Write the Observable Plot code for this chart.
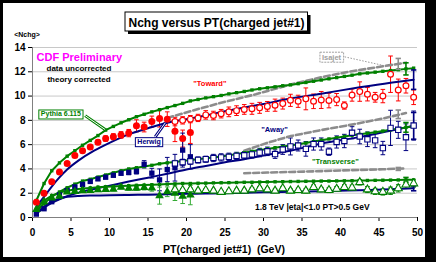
<!DOCTYPE html>
<html><head><meta charset="utf-8">
<script src="https://cdn.jsdelivr.net/npm/d3@7"></script>
<script src="https://cdn.jsdelivr.net/npm/@observablehq/plot@0.6"></script>
<style>body{margin:0;background:#fff}svg{display:block}</style>
</head><body><div id="chart"></div>
<script>
// ---- categories / ticks ----
const xTicks = [0,5,10,15,20,25,30,35,40,45,50];
const yTicks = [0,2,4,6,8,10,12,14];
const ptMB = [0.5,1.5,2.5,3.5,4.5,5.5,6.5,7.5,8.5,9.5,10.5,11.5,12.5,13.5,14.5,15.5,16.5,17.5,18.5,19.5,20.5];
const ptJ20 = [18.5,19.5,20.5,21.5,22.5,23.5,24.5,25.5,26.5,27.5,28.5,29.5,30.5,31.5,32.5,33.5,34.5,35.5,36.5,37.5,38.5,39.5,40.5,41.5,42.5,43.5,44.5,45.5,46.5,47.5,48.5,49.5];
const ptTheory = [0.5,1.5,2.5,3.5,4.5,5.5,6.5,7.5,8.5,9.5,10.5,11.5,12.5,13.5,14.5,15.5,16.5,17.5,18.5,19.5,20.5,21.5,22.5,23.5,24.5,25.5,26.5,27.5,28.5,29.5,30.5,31.5,32.5,33.5,34.5,35.5,36.5,37.5,38.5,39.5,40.5,41.5,42.5,43.5,44.5,45.5,46.5,47.5,48.5,49.5];

// ---- data (min-bias = filled, JET20 = open) ----
const towardMB = [1.25,2.0,2.95,3.75,4.45,5.1,5.5,5.8,6.2,6.5,6.65,6.8,6.95,7.55,7.45,7.9,8.15,8.1,7.1,6.5,7.0];
const towardMBerr = [0.05,0.07,0.08,0.1,0.12,0.13,0.15,0.17,0.2,0.22,0.25,0.27,0.3,0.5,0.4,0.45,0.7,0.6,0.85,0.7,0.9];
const towardJ20 = [7.9,8.0,8.1,8.2,8.45,8.4,8.55,8.7,8.8,8.9,8.95,9.03,9.15,9.25,9.38,9.65,9.57,9.77,9.57,9.68,9.63,9.71,9.22,10.08,10.37,10.15,9.9,10.0,11.8,10.5,10.85,9.9];
const towardJ20err = [0.35,0.3,0.3,0.3,0.35,0.35,0.35,0.4,0.4,0.4,0.45,0.45,0.4,0.5,0.45,0.5,0.5,0.9,0.6,0.7,0.6,0.5,0.3,0.5,0.8,0.55,0.4,0.55,1.5,0.9,0.6,0.6];

const awayMB = [0.28,0.72,1.3,1.85,2.22,2.52,2.73,2.97,3.18,3.32,3.48,3.65,3.72,3.8,4.38,3.65,3.1,3.95,4.1,5.55,5.0];
const awayMBerr = [0.03,0.04,0.05,0.06,0.07,0.08,0.09,0.1,0.12,0.13,0.15,0.17,0.2,0.22,0.3,0.4,0.9,1.0,1.1,1.4,1.0];
const awayJ20 = [4.45,4.55,4.63,4.74,4.8,4.9,4.95,5.0,5.07,5.12,5.2,5.35,5.45,5.22,5.6,5.85,5.93,5.65,6.05,6.05,5.42,6.22,6.3,6.98,6.67,6.44,6.35,5.72,7.38,7.22,6.61,7.57];
const awayJ20err = [0.25,0.25,0.25,0.25,0.25,0.3,0.3,0.3,0.3,0.3,0.3,0.35,0.35,0.35,0.4,0.7,0.45,0.6,0.5,0.5,0.3,0.5,0.55,0.5,0.6,0.6,0.6,0.55,1.45,0.7,1.1,1.2];

const transMB = [0.65,1.3,1.6,1.75,2.1,2.15,2.2,2.22,2.28,2.3,2.32,2.5,2.4,2.4,2.47,2.42,1.8,2.12,2.0,1.75,1.85];
const transMBerr = [0.03,0.04,0.05,0.06,0.07,0.08,0.08,0.09,0.1,0.1,0.12,0.13,0.14,0.15,0.2,0.25,0.7,0.4,0.6,0.6,0.8];
const transJ20 = [2.3,2.25,2.3,2.2,2.25,2.2,2.1,2.15,2.2,2.2,2.3,2.4,2.3,2.2,2.4,2.2,2.25,2.2,2.5,2.3,2.25,2.35,2.5,2.45,2.9,2.3,2.15,2.1,2.2,2.4,2.7,2.8];
const transJ20err = [0.12,0.12,0.12,0.12,0.12,0.13,0.13,0.13,0.14,0.14,0.15,0.15,0.15,0.15,0.16,0.16,0.17,0.17,0.18,0.18,0.2,0.2,0.2,0.22,0.22,0.25,0.25,0.25,0.3,0.3,0.3,0.3];

// ---- theory ----
const pythiaToward = [1.4,2.8,3.85,4.5,5.05,5.5,5.95,6.35,6.75,7.2,7.5,7.8,8.05,8.3,8.5,8.7,8.88,9.05,9.22,9.4,9.6,9.72,9.85,9.95,10.05,10.18,10.28,10.38,10.5,10.6,10.68,10.76,10.85,10.92,11.02,11.12,11.22,11.32,11.42,11.52,11.62,11.72,11.83,11.9,11.97,12.04,12.1,12.17,12.24,12.3];
const pythiaAway = [0.5,1.15,1.7,2.1,2.45,2.75,3.0,3.15,3.33,3.5,3.68,3.85,4.0,4.1,4.2,4.3,4.42,4.5,4.58,4.66,4.73,4.8,4.88,4.95,5.03,5.12,5.22,5.33,5.45,5.56,5.65,5.75,5.85,5.93,6.03,6.13,6.25,6.37,6.47,6.57,6.67,6.77,6.85,6.94,7.03,7.12,7.22,7.32,7.42,7.52];
const pythiaTrans = [0.7,1.4,1.8,2.05,2.2,2.3,2.38,2.44,2.5,2.53,2.56,2.6,2.62,2.65,2.67,2.7,2.72,2.75,2.77,2.8,2.8,2.82,2.83,2.85,2.86,2.87,2.88,2.9,2.9,2.92,2.93,2.94,2.95,2.96,2.97,2.98,2.99,3.0,3.0,3.01,3.02,3.03,3.04,3.05,3.06,3.07,3.08,3.09,3.1,3.1];

const herwigPt = [0.5,1.5,2.5,3.5,4.5,6,8,10,12.5,15,17.5,20,22.5,25,27.5,30,33.5,37.5,42.5,46.5,49.5];
const herwigToward = [0.9,1.7,2.55,3.3,3.95,4.7,5.5,6.15,6.85,7.35,7.8,8.1,8.4,8.75,9.05,9.35,9.8,10.2,10.72,11.1,11.35];
const herwigAway = [0.3,0.8,1.2,1.5,1.75,2.05,2.35,2.62,2.96,3.28,3.6,3.95,4.25,4.55,4.8,5.1,5.5,6.1,6.62,7.15,7.55];
const herwigTrans = [0.3,0.9,1.3,1.55,1.7,1.78,1.81,1.83,1.86,1.88,1.92,1.95,1.97,2.0,2.03,2.07,2.12,2.17,2.25,2.32,2.4];

const isajetTowardPt = [17.5,20.5,24.5,29,33.5,37.5,41.5,45.5,48.5];
const isajetToward = [8.2,8.75,9.45,10.15,10.95,11.55,12.05,12.45,12.75];
const isajetSidePt = [27.5,30.5,33.5,37.5,41.5,45.5,48.5];
const isajetAway = [5.5,6.15,6.7,7.2,7.65,8.15,8.6];
const isajetTrans = [3.65,3.7,3.75,3.82,3.9,3.97,4.05];

// theory statistical errors at the end of each curve
const theoryErrPt = [48.5,47.5,49.5,48.5,47.5,49.5,48.5,47.5,49.5];
const theoryErrN = [12.24,12.65,11.35,7.42,8.5,7.55,3.1,4.0,2.4];
const theoryErrE = [0.5,0.45,0.8,0.4,0.35,1.1,0.2,0.12,0.2];
const theoryErrModel = ["Pythia","Isajet","Herwig","Pythia","Isajet","Herwig","Pythia","Isajet","Herwig"];

// ---- build tables ----
const rows = (pts, vals, errs) => pts.map((p, i) => ({pt: p, n: vals[i], e: errs ? errs[i] : 0}));
const RED = "#FF0000", NAVY = "#000080", GREEN = "#008000", GRAY = "#8C8C8C";
const modelColor = {Pythia: GREEN, Herwig: NAVY, Isajet: GRAY};

const tMB = rows(ptMB, towardMB, towardMBerr), tJ = rows(ptJ20, towardJ20, towardJ20err);
const aMB = rows(ptMB, awayMB, awayMBerr), aJ = rows(ptJ20, awayJ20, awayJ20err);
const sMB = rows(ptMB, transMB, transMBerr), sJ = rows(ptJ20, transJ20, transJ20err);
const thErr = theoryErrPt.map((p, i) => ({pt: p, n: theoryErrN[i], e: theoryErrE[i], c: modelColor[theoryErrModel[i]]}));

function errMarks(data, color, sw = 1) {
  const o = {stroke: color, strokeWidth: sw};
  return [
    Plot.link(data, {x1: "pt", x2: "pt", y1: d => d.n - d.e, y2: d => d.n + d.e, ...o}),
    Plot.link(data, {x1: d => d.pt - 0.3, x2: d => d.pt + 0.3, y1: d => d.n + d.e, y2: d => d.n + d.e, ...o}),
    Plot.link(data, {x1: d => d.pt - 0.3, x2: d => d.pt + 0.3, y1: d => d.n - d.e, y2: d => d.n - d.e, ...o})
  ];
}
const pythiaLine = (vals) => [
  Plot.line(rows(ptTheory, vals), {x: "pt", y: "n", stroke: GREEN, strokeWidth: 2}),
  Plot.dot(rows(ptTheory, vals), {x: "pt", y: "n", symbol: "square", r: 1.9, fill: GREEN})
];
const herwigLine = (vals) => Plot.line(rows(herwigPt, vals), {x: "pt", y: "n", stroke: NAVY, strokeWidth: 2, curve: "monotone-x"});
const isajetLine = (pts, vals) => Plot.line(rows(pts, vals), {x: "pt", y: "n", stroke: GRAY, strokeWidth: 2.6, strokeDasharray: "6,3"});

const FONT = "'Liberation Sans', Arial, Helvetica, sans-serif";

const chart = Plot.plot({
  width: 436, height: 262,
  marginLeft: 32, marginRight: 19, marginTop: 47, marginBottom: 45,
  style: {fontFamily: FONT, fontSize: "10px", fontWeight: "bold", color: "black", background: "white", overflow: "visible"},
  x: {domain: [0, 50], ticks: xTicks, tickSize: 4, tickPadding: 7, label: null, tickFormat: d => String(d)},
  y: {domain: [0, 14], ticks: yTicks, tickSize: 4, tickPadding: 3, label: null, tickFormat: d => String(d)},
  marks: [
    Plot.ruleY(yTicks.filter(d => d > 0), {stroke: "#C8C8C8", strokeWidth: 1}),
    Plot.ruleY([0], {stroke: "#808080"}),
    Plot.ruleX([0], {stroke: "#808080"}),
    ...errMarks(tMB, RED), ...errMarks(tJ, RED),
    ...errMarks(aMB, NAVY), ...errMarks(aJ, NAVY),
    ...errMarks(sMB, "#33AA33"), ...errMarks(sJ, GREEN),
    isajetLine(isajetTowardPt, isajetToward),
    isajetLine(isajetSidePt, isajetAway),
    isajetLine(isajetSidePt, isajetTrans),
    herwigLine(herwigToward), herwigLine(herwigAway), herwigLine(herwigTrans),
    ...pythiaLine(pythiaToward), ...pythiaLine(pythiaAway), ...pythiaLine(pythiaTrans),
    Plot.link(thErr, {x1: "pt", x2: "pt", y1: d => d.n - d.e, y2: d => d.n + d.e, stroke: "c", strokeWidth: 1.6}),
    Plot.link(thErr, {x1: d => d.pt - 0.35, x2: d => d.pt + 0.35, y1: d => d.n + d.e, y2: d => d.n + d.e, stroke: "c", strokeWidth: 1.6}),
    Plot.link(thErr, {x1: d => d.pt - 0.35, x2: d => d.pt + 0.35, y1: d => d.n - d.e, y2: d => d.n - d.e, stroke: "c", strokeWidth: 1.6}),
    Plot.dot(tMB, {x: "pt", y: "n", r: 3.5, fill: RED}),
    Plot.dot(tJ, {x: "pt", y: "n", r: 2.9, fill: "white", stroke: RED, strokeWidth: 1.2}),
    Plot.dot(aMB, {x: "pt", y: "n", symbol: "square", r: 3.0, fill: NAVY}),
    Plot.dot(aJ, {x: "pt", y: "n", symbol: "square", r: 3.0, fill: "white", stroke: NAVY, strokeWidth: 1.1}),
    Plot.dot(sMB, {x: "pt", y: "n", symbol: "triangle", r: 3.2, fill: GREEN}),
    Plot.dot(sJ, {x: "pt", y: "n", symbol: "triangle", r: 3.0, fill: "white", stroke: GREEN, strokeWidth: 1.1})
  ]
});
document.getElementById("chart").appendChild(chart);

// ---- decorations & annotations ----
const svg = d3.select(chart);
const sx = chart.scale("x").apply, sy = chart.scale("y").apply;
const bg = svg.insert("g", ":first-child");
bg.append("rect").attr("x", 0).attr("y", 0).attr("width", 436).attr("height", 262).attr("fill", "black");
bg.append("rect").attr("x", 3).attr("y", 3).attr("width", 422).attr("height", 254).attr("fill", "white");

const ann = svg.append("g").attr("font-family", FONT).attr("font-weight", "bold");
function label(text, pt, n, size, color, anchor = "middle") {
  return ann.append("text").attr("x", sx(pt)).attr("y", sy(n)).attr("dy", "0.35em")
    .attr("text-anchor", anchor).attr("font-size", size).attr("fill", color).text(text);
}
function boxed(t, stroke, dash) {
  const b = t.node().getBBox();
  ann.insert("rect", () => t.node()).attr("x", b.x - 2).attr("y", b.y - 0.5)
    .attr("width", b.width + 4).attr("height", b.height + 1)
    .attr("fill", "white").attr("stroke", stroke).attr("stroke-width", 1)
    .attr("stroke-dasharray", dash || null);
}
function leader(p1, p2, color, dbl) {
  const l = ann.append("line").attr("x1", sx(p1[0])).attr("y1", sy(p1[1])).attr("x2", sx(p2[0])).attr("y2", sy(p2[1]));
  if (dbl) {
    l.attr("stroke", color).attr("stroke-width", 3);
    ann.append("line").attr("x1", sx(p1[0])).attr("y1", sy(p1[1])).attr("x2", sx(p2[0])).attr("y2", sy(p2[1]))
      .attr("stroke", "white").attr("stroke-width", 1);
  } else {
    l.attr("stroke", color).attr("stroke-width", 1).attr("stroke-dasharray", "1.5,1.5");
  }
}

// leaders (drawn before boxes so boxes cover their ends)
leader([6.9, 8.35], [9.5, 7.2], GREEN, true);
leader([16.0, 6.6], [17.3, 7.75], NAVY, true);
leader([40.6, 13.19], [46.2, 12.4], "#999", false);

boxed(label("Pythia 6.115", 3.75, 8.48, "7px", GREEN), GREEN);
boxed(label("Herwig", 15.2, 6.2, "7px", NAVY), NAVY);
boxed(label("Isajet", 38.9, 13.17, "7.5px", "#A0A0A0"), "#A0A0A0", "2,1");

label("CDF Preliminary", 6.15, 13.2, "11px", "#FF00FF");
label("data uncorrected", 6.1, 12.24, "8px", "black");
label("theory corrected", 6.1, 11.36, "8px", "black");
label("\"Toward\"", 23.1, 11.0, "7.5px", RED);
label("\"Away\"", 31.5, 7.2, "7.5px", NAVY);
label("\"Transverse\"", 39.4, 4.55, "7.5px", GREEN);
label("1.8 TeV |eta|<1.0 PT>0.5 GeV", 36.4, 0.82, "8.5px", "black");

// axis titles
ann.append("text").attr("x", 27).attr("y", 35).attr("dy", "0.35em").attr("text-anchor", "middle")
  .attr("font-size", "7px").attr("fill", "black").text("<Nchg>");
ann.append("text").attr("x", 224).attr("y", 249).attr("dy", "0.35em").attr("text-anchor", "middle")
  .attr("font-size", "10.5px").attr("fill", "black").attr("xml:space", "preserve").style("white-space", "pre")
  .text("PT(charged jet#1)  (GeV)");

// title box with shadow
ann.append("rect").attr("x", 128).attr("y", 15).attr("width", 182.5).attr("height", 19).attr("fill", "black");
ann.append("rect").attr("x", 125).attr("y", 12).attr("width", 182.5).attr("height", 19).attr("fill", "white").attr("stroke", "black").attr("stroke-width", 1);
ann.append("text").attr("x", 216.5).attr("y", 27.2).attr("text-anchor", "middle").attr("font-size", "12px")
  .attr("fill", "black").text("Nchg versus PT(charged jet#1)");
</script></body></html>
